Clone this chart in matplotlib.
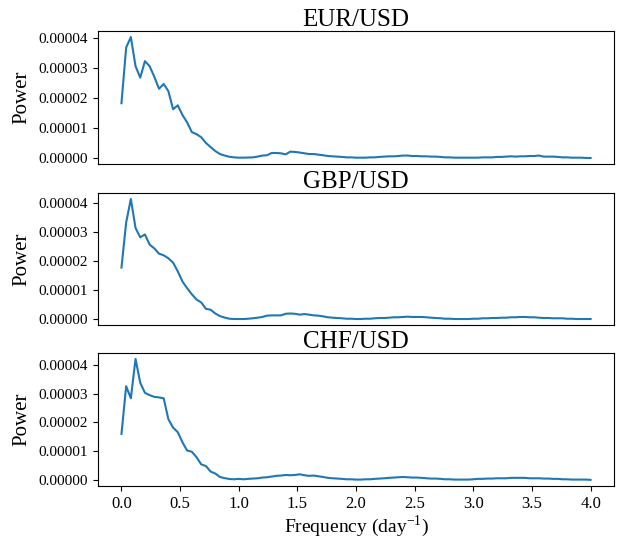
import numpy as np
import matplotlib
matplotlib.use("Agg")
import matplotlib.pyplot as plt

plt.rcParams['font.family'] = ['Liberation Serif', 'DejaVu Serif']
plt.rcParams['mathtext.fontset'] = 'custom'
plt.rcParams['mathtext.rm'] = 'Liberation Serif'

freq_step = 0.04
n_points = 101
freq = np.arange(n_points) * freq_step

titles = ["EUR/USD", "GBP/USD", "CHF/USD"]

eur_power = [1.82, 3.67, 4.02, 3.05, 2.67, 3.22, 3.05, 2.70, 2.30, 2.46,
             2.22, 1.62, 1.75, 1.43, 1.18, 0.86, 0.79, 0.69, 0.50, 0.36,
             0.23, 0.13, 0.08, 0.04, 0.02, 0.01,
             0.01, 0.015, 0.02, 0.045, 0.08, 0.09, 0.165, 0.165, 0.155, 0.12,
             0.21, 0.20, 0.18, 0.155, 0.13, 0.13, 0.11, 0.09, 0.065, 0.055,
             0.045, 0.035, 0.02, 0.02, 0.01, 0.01, 0.01, 0.02, 0.02, 0.035,
             0.045, 0.055, 0.055, 0.065, 0.08, 0.08, 0.065, 0.065, 0.055, 0.055,
             0.045, 0.045, 0.035, 0.02, 0.02, 0.01, 0.01, 0.01, 0.01, 0.01,
             0.01, 0.02, 0.02, 0.02, 0.035, 0.035, 0.045, 0.055, 0.045, 0.055,
             0.055, 0.065, 0.065, 0.08, 0.045, 0.045, 0.045, 0.035, 0.02, 0.02,
             0.01, 0.01, 0.01, 0.0, 0.0]

gbp_power = [1.78, 3.33, 4.14, 3.14, 2.82, 2.92, 2.57, 2.44, 2.26, 2.20,
             2.10, 1.95, 1.65, 1.30, 1.07, 0.86, 0.68, 0.58, 0.36, 0.33,
             0.20, 0.11, 0.06, 0.02, 0.01, 0.01,
             0.01, 0.02, 0.035, 0.055, 0.08, 0.125, 0.135, 0.135, 0.135, 0.19,
             0.20, 0.19, 0.16, 0.18, 0.16, 0.135, 0.125, 0.10, 0.07, 0.055,
             0.045, 0.035, 0.02, 0.02, 0.01, 0.01, 0.02, 0.02, 0.035, 0.045,
             0.045, 0.055, 0.07, 0.07, 0.08, 0.09, 0.08, 0.08, 0.08, 0.07,
             0.055, 0.045, 0.035, 0.02, 0.02, 0.01, 0.01, 0.01, 0.01, 0.02,
             0.02, 0.035, 0.035, 0.045, 0.045, 0.055, 0.055, 0.07, 0.07, 0.08,
             0.08, 0.07, 0.07, 0.055, 0.045, 0.045, 0.035, 0.035, 0.035, 0.02,
             0.02, 0.01, 0.01, 0.01, 0.01]

chf_power = [1.60, 3.26, 2.84, 4.21, 3.38, 3.03, 2.95, 2.89, 2.87, 2.84,
             2.11, 1.82, 1.66, 1.31, 1.02, 0.98, 0.79, 0.54, 0.48, 0.29,
             0.22, 0.10, 0.06, 0.03, 0.02, 0.035,
             0.02, 0.035, 0.045, 0.055, 0.08, 0.09, 0.115, 0.14, 0.15, 0.17,
             0.16, 0.17, 0.195, 0.16, 0.14, 0.15, 0.125, 0.10, 0.07, 0.055,
             0.045, 0.035, 0.02, 0.02, 0.01, 0.01, 0.02, 0.02, 0.035, 0.045,
             0.055, 0.07, 0.08, 0.09, 0.10, 0.09, 0.08, 0.08, 0.07, 0.055,
             0.045, 0.045, 0.035, 0.02, 0.02, 0.01, 0.01, 0.01, 0.01, 0.02,
             0.035, 0.035, 0.045, 0.045, 0.055, 0.055, 0.055, 0.07, 0.07, 0.07,
             0.07, 0.055, 0.055, 0.055, 0.045, 0.045, 0.035, 0.035, 0.02, 0.02,
             0.01, 0.01, 0.01, 0.01, 0.0]

scale = 1e-5
series = [eur_power, gbp_power, chf_power]

fig = plt.figure(figsize=(6.18, 5.39), dpi=100)
positions = [
    [0.1586, 0.6957, 0.8350, 0.2468],
    [0.1586, 0.3970, 0.8350, 0.2450],
    [0.1586, 0.0985, 0.8350, 0.2468],
]
xt = np.arange(0, 4.01, 0.5)
for k, (pos, title, vals) in enumerate(zip(positions, titles, series)):
    ax = fig.add_axes(pos)
    ax.plot(freq, np.array(vals) * scale, color='#1f77b4', lw=1.5)
    ax.set_title(title, fontsize=18, pad=3)
    ax.set_ylabel("Power", fontsize=15, labelpad=5)
    ax.set_yticks([0, 1e-5, 2e-5, 3e-5, 4e-5])
    ax.set_yticklabels(["0.00000", "0.00001", "0.00002", "0.00003", "0.00004"])
    ax.tick_params(axis='y', labelsize=11)
    ax.set_xticks(xt)
    if k < 2:
        ax.tick_params(axis='x', bottom=False, labelbottom=False)
    else:
        ax.set_xticklabels([f"{v:.1f}" for v in xt])
        ax.tick_params(axis='x', labelsize=12, pad=4)
        ax.set_xlabel("Frequency (day$^{-1}$)", fontsize=14, labelpad=0.5)

fig.savefig("out.png", dpi=100)
